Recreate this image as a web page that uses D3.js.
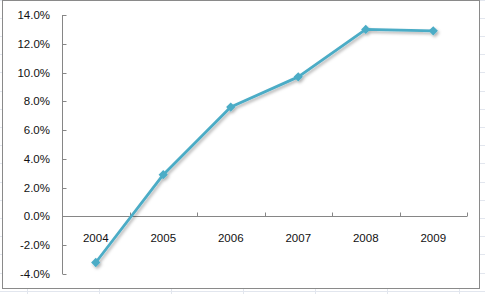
<!DOCTYPE html>
<html>
<head>
<meta charset="utf-8">
<script src="https://cdn.jsdelivr.net/npm/d3@7.9.0/dist/d3.min.js"></script>
<style>
  html, body { margin: 0; padding: 0; background: #fff; }
  svg { display: block; }
  text { font-family: "Liberation Sans", Arial, sans-serif; font-size: 11.5px; fill: #111; }
</style>
</head>
<body>
<svg id="chart" width="485" height="294"></svg>
<script>
// ---- data ----
const years = ['2004', '2005', '2006', '2007', '2008', '2009'];
const growth = [-3.2, 2.9, 7.6, 9.7, 13.0, 12.9];
const yTicks = [-4, -2, 0, 2, 4, 6, 8, 10, 12, 14];

const W = 485, H = 294;
const svg = d3.select('#chart');

// faint spreadsheet grid behind the chart object
const sheet = svg.append('g').attr('stroke', '#e2e6ee').attr('stroke-width', 1);
d3.range(-0.5, H, 18.2).forEach(y => sheet.append('line')
  .attr('x1', 0).attr('x2', W).attr('y1', Math.round(y) + 0.5).attr('y2', Math.round(y) + 0.5));
d3.range(26.5, W, 72).forEach(x => sheet.append('line')
  .attr('x1', Math.round(x) + 0.5).attr('x2', Math.round(x) + 0.5).attr('y1', 0).attr('y2', H));

// chart object with border
svg.append('rect')
  .attr('x', 2.5).attr('y', 0.5).attr('width', 477).attr('height', 288)
  .attr('fill', '#fff').attr('stroke', '#8a8a8a');

// shadow filter
const defs = svg.append('defs');
const f = defs.append('filter').attr('id', 'shadow')
  .attr('x', '-20%').attr('y', '-20%').attr('width', '140%').attr('height', '140%');
f.append('feDropShadow').attr('dx', 1.5).attr('dy', 2).attr('stdDeviation', 1.6)
  .attr('flood-color', '#000').attr('flood-opacity', 0.3);

// scales
const x = d3.scaleBand().domain(years).range([62, 467]);
const y = d3.scaleLinear().domain([-4, 14]).range([274, 15]);

const axisColor = '#868686';

// y axis
const yAxis = svg.append('g').attr('transform', 'translate(62.5,0)')
  .call(d3.axisRight(y).tickValues(yTicks).tickSize(4).tickFormat(''));
yAxis.select('.domain').attr('stroke', axisColor).attr('d', `M0,${y(14)}V${y(-4)}`);
yAxis.selectAll('.tick line').attr('stroke', axisColor);
yAxis.selectAll('.tick').attr('transform', d => `translate(0,${Math.round(y(d)) + 0.5})`);

svg.append('g').selectAll('text').data(yTicks).join('text')
  .attr('x', 50).attr('y', d => y(d))
  .attr('dy', '0.35em').attr('text-anchor', 'end')
  .text(d => d.toFixed(1) + '%');

// x axis at zero
const y0 = Math.round(y(0)) + 0.5;
const xAxis = svg.append('g').attr('transform', `translate(0,${y0})`);
xAxis.append('line').attr('x1', 62).attr('x2', 467)
  .attr('stroke', axisColor);
xAxis.selectAll('line.tk').data(years).join('line').attr('class', 'tk')
  .attr('x1', d => Math.round(x(d) + x.bandwidth()) + 0.5)
  .attr('x2', d => Math.round(x(d) + x.bandwidth()) + 0.5)
  .attr('y1', -4).attr('y2', 0).attr('stroke', axisColor);

svg.append('g').selectAll('text').data(years).join('text')
  .attr('x', d => x(d) + x.bandwidth() / 2).attr('y', y(0) + 22)
  .attr('dy', '0.35em').attr('text-anchor', 'middle')
  .text(d => d);

// series
const pts = years.map((yr, i) => [x(yr) + x.bandwidth() / 2, y(growth[i])]);
const series = svg.append('g').attr('filter', 'url(#shadow)');
series.append('path')
  .attr('d', d3.line()(pts))
  .attr('fill', 'none').attr('stroke', '#4BACC6')
  .attr('stroke-width', 2.8).attr('stroke-linejoin', 'round');
series.selectAll('path.mk').data(pts).join('path').attr('class', 'mk')
  .attr('transform', d => `translate(${d[0]},${d[1]})`)
  .attr('d', d3.symbol().type(d3.symbolDiamond2).size(55))
  .attr('fill', '#4BACC6');
</script>
</body>
</html>
